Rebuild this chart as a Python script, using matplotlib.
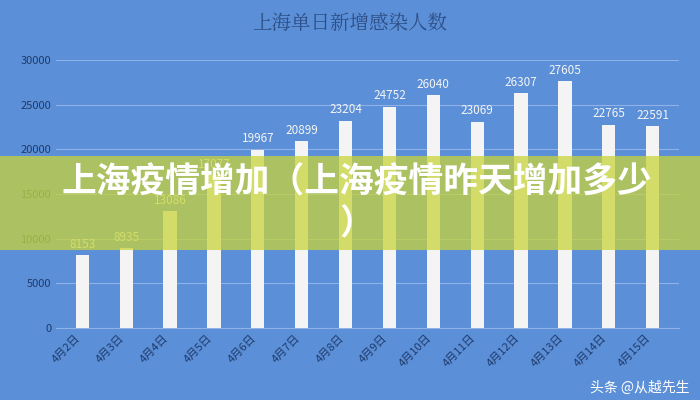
import matplotlib.pyplot as plt

plt.rcParams['font.family'] = ['Noto Sans CJK SC', 'DejaVu Sans']

days = ["4月2日", "4月3日", "4月4日", "4月5日", "4月6日", "4月7日", "4月8日",
        "4月9日", "4月10日", "4月11日", "4月12日", "4月13日", "4月14日", "4月15日"]
cases = [8153, 8935, 13086, 17077, 19967, 20899, 23204,
         24752, 26040, 23069, 26307, 27605, 22765, 22591]
yticks = [0, 5000, 10000, 15000, 20000, 25000, 30000]

bg = "#5b8fd8"
fig = plt.figure(figsize=(7, 4), dpi=100, facecolor=bg)
ax = fig.add_axes([0.08, 0.18, 0.89, 0.67], facecolor=bg)

x = range(len(days))
ax.bar(x, cases, width=0.3, color="#f4f4f4", zorder=3)
for i, v in enumerate(cases):
    ax.text(i, v + 500, str(v), ha="center", va="bottom", fontsize=8.5, color="#f4f4f4", zorder=4)

ax.set_ylim(0, 30000)
ax.set_xlim(-0.6, len(days) - 0.4)
ax.set_yticks(yticks)
ax.set_yticklabels([str(t) for t in yticks], fontsize=8, color="#1f3a6a")
ax.set_xticks(list(x))
ax.set_xticklabels(days, rotation=45, ha="right", fontsize=8, color="#1f3a6a")
ax.grid(axis="y", color="#8fb3e6", linewidth=0.8, zorder=0)
for s in ax.spines.values():
    s.set_visible(False)
ax.spines["bottom"].set_visible(True)
ax.spines["bottom"].set_color("#8fb3e6")
ax.tick_params(length=0)

fig.text(0.5, 0.94, "上海单日新增感染人数", ha="center", va="center", fontsize=14,
         color="#2d4f86", family=['Noto Serif CJK SC', 'Noto Sans CJK SC'])

# 覆盖的标题横幅
fig.patches.append(plt.Rectangle((0, 0.375), 1, 0.235, transform=fig.transFigure,
                                 facecolor="#c8d43a", alpha=0.75, zorder=10))
fig.text(0.088, 0.545, "上海疫情增加（上海疫情昨天增加多少", ha="left", va="center",
         fontsize=25, fontweight="bold", color="white", zorder=11)
fig.text(0.485, 0.44, "）", ha="left", va="center",
         fontsize=25, fontweight="bold", color="white", zorder=11)

fig.text(0.985, 0.03, "头条 @从越先生", ha="right", va="center", fontsize=10, color="white")

plt.savefig("out.png", dpi=100, facecolor=bg)
